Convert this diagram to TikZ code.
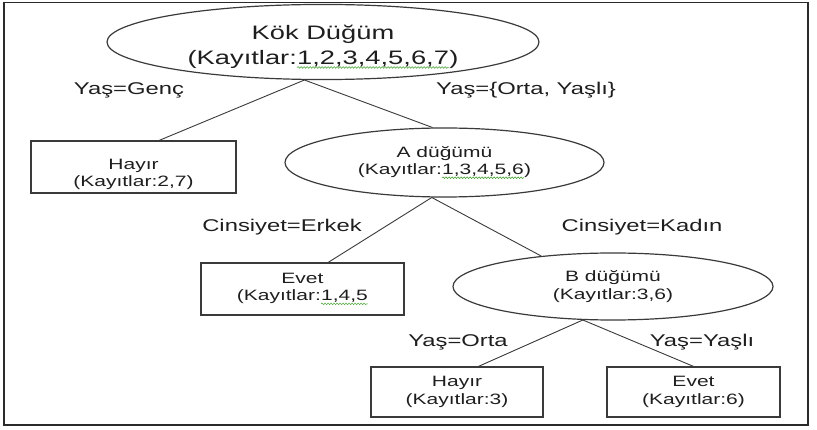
\documentclass[tikz,border=0pt]{standalone}
\usepackage{fontspec}
\setmainfont{Liberation Sans}[FakeStretch=1.4]
\usetikzlibrary{shapes.geometric,decorations.pathmorphing}
\definecolor{lc}{HTML}{3A3A3A}
\definecolor{tc}{HTML}{1E1E1E}
\definecolor{fc}{HTML}{2A2A2A}
\definecolor{squig}{HTML}{4FA63A}
\newcommand\gwave[1]{\tikz[baseline=(w.base)]{\node[shape=rectangle, minimum width=0pt, minimum height=0pt, inner sep=0pt, outer sep=0pt, draw=none, text=tc, align=left] (w) {#1};
  \draw[squig, line width=0.6pt, decorate, decoration={snake,amplitude=0.8pt,segment length=3pt}] ([yshift=-3pt]w.base west) -- ([yshift=-3pt]w.base east);}}
\begin{document}
\begin{tikzpicture}[x=1pt,y=-1pt,
  ell/.style={draw=lc, line width=1.2pt, ellipse, inner sep=0pt, align=center, text=tc},
  box/.style={draw=lc, line width=1.2pt, rectangle, inner sep=0pt, align=center, text=tc},
  small/.style={font=\fontsize{15}{17.5}\selectfont},
  conn/.style={draw=lc, line width=0.9pt},
  lab/.style={text=tc, font=\fontsize{17}{20}\selectfont, inner sep=0pt},
  frm/.style={draw=fc, line width=1.6pt}]
\useasboundingbox (0,0) rectangle (817,430);
\draw[frm] (4,2.5) rectangle (808,425);
% nodes
\node[ell, minimum width=432pt, minimum height=72pt, font=\fontsize{19.5}{25}\selectfont] (root) at (323,42) {\rule{0pt}{24pt}Kök Düğüm\\(Kayıtlar:\gwave{1,2,3,4,5,6,7})};
\node[box, small, minimum width=205pt, minimum height=52pt] (h1) at (133.5,167) {\rule{0pt}{25pt}Hayır\\(Kayıtlar:2,7)};
\node[ell, small, minimum width=319pt, minimum height=69pt] (a) at (444.5,162.5) {A düğümü\\(Kayıtlar:\gwave{1,3,4,5,6})};
\node[box, small, minimum width=203pt, minimum height=52pt] (e1) at (302.5,289) {Evet\\(Kayıtlar:\gwave{1,4,5}};
\node[ell, small, minimum width=320pt, minimum height=67pt] (b) at (613,286.5) {B düğümü\\(Kayıtlar:3,6)};
\node[box, small, minimum width=172pt, minimum height=50pt] (h2) at (457,392) {Hayır\\(Kayıtlar:3)};
\node[box, small, minimum width=173pt, minimum height=50pt] (e2) at (693.5,392) {Evet\\(Kayıtlar:6)};
% connectors
\draw[conn] (root.244.8) -- (h1.46.7);
\draw[conn] (root.244.8) -- (a.109.9);
\draw[conn] (a.250.6) -- (e1.46.7);
\draw[conn] (a.250.6) -- (b.157.8);
\draw[conn] (b.228.6) -- (h2.50);
\draw[conn] (b.228.6) -- (e2.north);
% labels
\node[lab] (l1) at (129,90) {Yaş=Genç};
\node[lab] (l2) at (526,90) {Yaş=\{Orta, Yaşlı\}};
\node[lab] (l3) at (282,227) {Cinsiyet=Erkek};
\node[lab] (l4) at (642,227) {Cinsiyet=Kadın};
\node[lab] (l5) at (458,342) {Yaş=Orta};
\node[lab] (l6) at (702,342) {Yaş=Yaşlı};
\end{tikzpicture}
\end{document}
